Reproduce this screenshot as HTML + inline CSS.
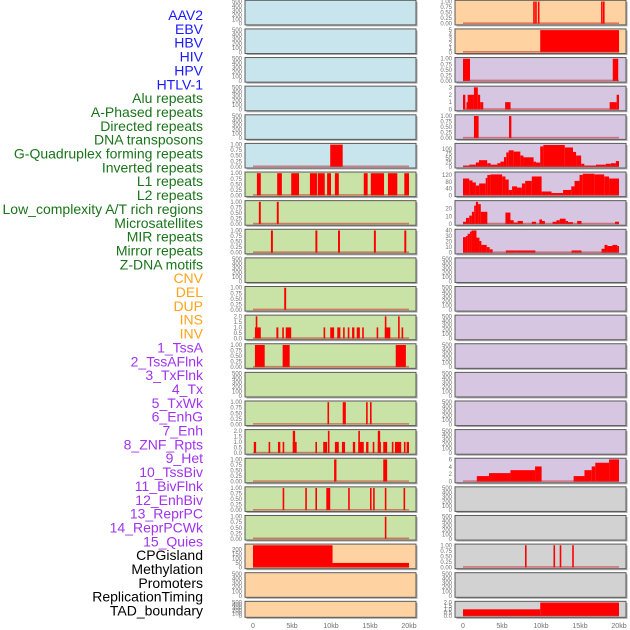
<!DOCTYPE html>
<html><head><meta charset="utf-8"><style>
html,body{margin:0;padding:0;background:#fff;}
svg{display:block;font-family:"Liberation Sans",sans-serif;}
</style></head><body>
<svg id="chart" width="630" height="630" viewBox="0 0 630 630"></svg>
<script>
// ---- data (kb coordinates) ----
const trackLabels = ["AAV2","EBV","HBV","HIV","HPV","HTLV-1","Alu repeats","A-Phased repeats","Directed repeats","DNA transposons","G-Quadruplex forming repeats","Inverted repeats","L1 repeats","L2 repeats","Low_complexity A/T rich regions","Microsatellites","MIR repeats","Mirror repeats","Z-DNA motifs","CNV","DEL","DUP","INS","INV","1_TssA","2_TssAFlnk","3_TxFlnk","4_Tx","5_TxWk","6_EnhG","7_Enh","8_ZNF_Rpts","9_Het","10_TssBiv","11_BivFlnk","12_EnhBiv","13_ReprPC","14_ReprPCWk","15_Quies","CPGisland","Methylation","Promoters","ReplicationTiming","TAD_boundary"];
const labelGroups = [6,13,5,15,5];
const xTickValues = [0,5,10,15,20];
const xTickLabels = ["0","5kb","10kb","15kb","20kb"];

const T500 = [0,100,200,300,400,500];
const T1 = [0,0.25,0.5,0.75,1];
const T1L = ["0.00","0.25","0.50","0.75","1.00"];
const T2 = [0,0.5,1,1.5,2];
const T2L = ["0.0","0.5","1.0","1.5","2.0"];

// left column segments [start, end, value]
const leftG4 = [[9.9,11.5,1]];
const leftL1 = [[0.5,1.0,1],[3.1,3.7,1],[4.9,5.9,1],[7.3,8.2,1],[8.3,9.2,1],[9.5,10.0,1],[10.5,11.0,1],[14.2,14.7,1],[15.1,16.8,1],[17.3,18.5,1],[19.4,20,1]];
const leftLow = [[0.75,1.0,1],[3.05,3.3,1]];
const leftMIR = [[2.3,2.55,1],[8.0,8.25,1],[10.9,11.15,1],[15.5,15.75,1],[19.4,19.65,1]];
const leftDEL = [[4.0,4.25,1]];
const leftINS = [[0.25,1.0,1],[0.35,0.55,2],[3.0,3.25,1],[3.75,3.95,1],[4.2,4.9,1],[9.05,9.25,1],[9.9,10.4,1],[10.8,11.2,1],[11.55,11.75,1],[12.15,12.35,1],[12.7,13.0,1],[13.3,13.7,1],[14.0,14.2,1],[15.85,16.05,1],[16.9,17.1,2],[16.9,17.6,1],[18.6,18.8,2],[19.05,19.25,1]];
const leftTssA = [[0.25,1.5,1],[3.8,4.7,1],[18.3,19.6,1]];
const leftTxWk = [[9.55,9.75,1],[11.5,11.9,1],[14.5,14.7,1],[15.0,15.2,1]];
const leftEnh = [[0.1,0.4,1],[2.0,2.2,1],[3.2,3.5,1],[3.8,4.0,1],[5.1,5.6,1],[5.1,5.4,2],[8.0,8.2,1],[9.0,9.5,1],[9.6,9.8,2],[10.5,11.0,1],[11.4,11.8,1],[12.8,13.1,1],[13.5,14.2,1],[13.5,13.7,2],[14.5,14.8,1],[15.35,15.55,1],[16.0,16.4,1],[16.0,16.3,2],[16.7,17.2,1],[17.8,18.0,1],[18.2,19.0,1],[19.35,19.55,1],[19.7,20,1]];
const leftHet = [[10.4,10.7,1],[16.7,17.2,1]];
const leftBiv = [[3.8,4.0,1],[6.7,6.9,1],[8.0,8.2,1],[9.4,9.9,1],[12.2,12.4,1],[15.0,15.2,1],[15.4,15.6,1],[16.9,17.1,1],[19.3,19.5,1]];
const leftRepr = [[16.9,17.1,1]];
const leftCPG = [[0,10.2,245],[10.2,20,50]];

// right column segments
const rightAAV = [[9.0,9.15,1],[9.25,9.4,1],[9.6,9.75,1],[17.7,17.85,1],[17.95,18.1,1]];
const rightEBV = [[9.9,20,5]];
const rightHIV = [[0,0.9,1],[19.2,19.9,1]];
const rightAlu = [[0,0.3,2],[0.45,0.7,1],[0.6,1.4,2],[1.4,1.9,3],[1.9,2.2,2],[2.2,2.6,1],[5.4,6.1,1],[18.8,19.7,1],[19.7,20,2]];
const rightAPh = [[1.4,2.0,1],[5.9,6.2,1]];
const rightG4 = [[0,0.8,7],[0.8,1.65,12],[1.65,2.05,24],[2.05,3.1,37],[3.1,3.55,20],[3.55,4.4,12],[4.4,4.8,20],[4.8,5.25,29],[5.25,5.55,54],[5.55,5.85,80],[5.85,6.5,92],[6.5,7.35,85],[7.35,7.75,63],[7.75,9.05,53],[9.05,9.35,29],[9.35,9.9,24],[9.9,10.3,114],[10.3,13.05,122],[13.05,14.1,108],[14.1,14.5,83],[14.5,15.15,63],[15.15,15.55,17],[15.55,17.05,7],[17.05,18.3,12],[18.3,18.95,17],[18.95,19.6,20],[19.6,20,32]];
const rightL1 = [[0,0.8,99],[0.8,1.22,88],[1.22,1.65,76],[1.65,2.07,58],[2.07,2.91,70],[2.91,3.12,102],[3.12,3.54,120],[3.54,5.02,123],[5.02,5.44,111],[5.44,5.86,93],[5.86,6.29,32],[6.29,6.92,53],[6.92,7.55,46],[7.55,7.97,70],[7.97,8.82,85],[8.82,10.08,111],[10.08,11.35,23],[11.35,12.83,14],[12.83,13.88,32],[13.88,14.3,53],[14.3,14.94,85],[14.94,15.36,120],[15.36,16.84,127],[16.84,18.1,123],[18.1,18.73,111],[18.73,20,99]];
const rightLow = [[0,0.38,3],[0.38,0.8,8],[0.8,1.14,11],[1.14,1.43,16],[1.43,1.65,24],[1.65,1.94,29],[1.94,2.28,26],[2.28,3.12,16],[5.44,6.08,15],[6.08,6.5,5],[6.5,7.0,2],[7.0,7.68,4],[8.82,9.37,3],[9.79,10.13,6],[10.13,10.5,4],[11.48,11.98,3],[11.98,12.41,5],[12.41,13.16,7],[13.16,13.46,4],[13.46,14.09,2.5],[14.64,15.19,4],[19.49,20,3]];
const rightMIR = [[0,0.38,28],[0.38,0.59,30],[0.59,0.89,34],[0.89,1.1,38],[1.1,1.73,40],[1.73,2.11,27],[2.11,2.36,21],[2.36,3.04,14],[3.04,3.42,10],[3.42,3.8,6],[5.49,6.75,4],[6.75,9.28,4],[13.92,15.19,4],[17.76,18.14,7],[18.14,18.52,14],[18.52,19.16,12],[19.16,19.79,14],[19.79,20,12]];
const rightHet = [[1.77,3.33,1.5],[3.33,6.08,2.3],[6.08,9.24,3.1],[9.24,10.08,4.1],[14.18,15.57,1.5],[15.57,16.5,3.1],[16.5,16.96,4.1],[16.96,18.73,5.1],[18.73,20,6]];
const rightCPG = [[7.95,8.15,1],[11.6,11.8,1],[12.4,12.6,1],[14.0,14.2,1]];
const rightTAD = [[0,9.9,1],[9.9,20,2]];

const BLUE="#c8e4ec", GREEN="#c9e2a5", PEACH="#ffd2a2", PURPLE="#d6c6e2", GRAY="#d2d2d2";
// rows: [leftColor, leftData, leftMax, leftTicks, leftTickLabels, rightColor, rightData, rightMax, rightTicks, rightTickLabels]
const rows = [
 [BLUE,null,500,T500,null, PEACH,rightAAV,1,T1,T1L],
 [BLUE,null,500,T500,null, PEACH,rightEBV,5,[0,1,2,3,4,5],null],
 [BLUE,null,500,T500,null, PURPLE,rightHIV,1,T1,T1L],
 [BLUE,null,500,T500,null, PURPLE,rightAlu,3,[0,1,2,3],null],
 [BLUE,null,500,T500,null, PURPLE,rightAPh,1,T1,T1L],
 [BLUE,leftG4,1,T1,T1L, PURPLE,rightG4,124,[0,25,50,75,100],null],
 [GREEN,leftL1,1,T1,T1L, PURPLE,rightL1,130,[0,40,80,120],null],
 [GREEN,leftLow,1,T1,T1L, PURPLE,rightLow,29,[0,10,20],null],
 [GREEN,leftMIR,1,T1,T1L, PURPLE,rightMIR,40,[0,10,20,30,40],null],
 [GREEN,null,500,T500,null, PURPLE,null,500,T500,null],
 [GREEN,leftDEL,1,T1,T1L, PURPLE,null,500,T500,null],
 [GREEN,leftINS,2,T2,T2L, PURPLE,null,500,T500,null],
 [GREEN,leftTssA,1,T1,T1L, PURPLE,null,500,T500,null],
 [GREEN,null,500,T500,null, PURPLE,null,500,T500,null],
 [GREEN,leftTxWk,1,T1,T1L, PURPLE,null,500,T500,null],
 [GREEN,leftEnh,2,T2,T2L, PURPLE,null,500,T500,null],
 [GREEN,leftHet,1,T1,T1L, PURPLE,rightHet,6,[0,2,4,6],null],
 [GREEN,leftBiv,1,T1,T1L, GRAY,null,500,T500,null],
 [GREEN,leftRepr,1,T1,T1L, GRAY,null,500,T500,null],
 [PEACH,leftCPG,245,[0,50,100,150,200],null, GRAY,rightCPG,1,T1,T1L],
 [PEACH,null,500,T500,null, GRAY,null,500,T500,null],
 [PEACH,null,500,T500,null, GRAY,rightTAD,2,T2,T2L]
];
const labelColors = ["#1a1aff","#1a741a","#ffa31a","#a033ee","#000000"];

// ---- drawing ----
const NS="http://www.w3.org/2000/svg";
const svg=document.getElementById('chart');
function mk(tag,attrs,parent){const e=document.createElementNS(NS,tag);for(const k in attrs)e.setAttribute(k,attrs[k]);(parent||svg).appendChild(e);return e;}
const colX=[245,455], panelW=171, plotX0=8, kbPx=7.8;
function xScale(col,kb){return colX[col]+plotX0+kb*kbPx;}
function rowTop(i){return 0.3+28.62*i;}
function rowH(i){return i===21?16:24.6;}

// labels
let li=0;
labelGroups.forEach((n,g)=>{for(let k=0;k<n;k++){
  const t=mk('text',{x:203,y:15+li*13.85+5,'text-anchor':'end','font-size':'14',fill:labelColors[g]});
  t.textContent=trackLabels[li];
  
  
  li++;}});

rows.forEach((r,i)=>{
  for(let c=0;c<2;c++){
    const color=r[c*5],data=r[c*5+1],ymax=r[c*5+2],ticks=r[c*5+3],tl=r[c*5+4];
    const top=rowTop(i),h=rowH(i),x=colX[c];
    const g=mk('g',{});
    
    
    mk('rect',{x:x+1.5,y:top+1.5,width:panelW,height:h,fill:'#a8a8a8'},g);
    mk('rect',{x:x,y:top,width:panelW,height:h,fill:color,stroke:'#5a5a5a','stroke-width':1},g);
    const yb=top+h-1.2, yt=top+1.2;
    const yScale=v=>yb-(v/ymax)*(yb-yt);
    if(data){
      data.forEach(d=>{
        const x1=xScale(c,d[0]),x2=Math.max(xScale(c,d[1]),x1+1.6);
        const b=mk('rect',{x:x1,y:yScale(d[2]),width:x2-x1,height:yb-yScale(d[2]),fill:'#ff0000'},g);
        
        
      });
      mk('line',{x1:xScale(c,0),x2:xScale(c,20),y1:yb-0.5,y2:yb-0.5,stroke:'rgba(205,40,40,0.55)','stroke-width':1.6},g);
    }
    ticks.forEach((tv,k)=>{
      const t=mk('text',{x:x-3,y:yScale(tv)+2,'text-anchor':'end','font-size':'6',fill:'#707070'},g);
      t.textContent=tl?tl[k]:String(tv);
      
      
    });
  }
});
// x axes
for(let c=0;c<2;c++){
  xTickValues.forEach((v,k)=>{
    const t=mk('text',{x:xScale(c,v),y:628,'text-anchor':'middle','font-size':'7',fill:'#707070'});
    t.textContent=xTickLabels[k];
    
    
  });
}
</script>
</body></html>
